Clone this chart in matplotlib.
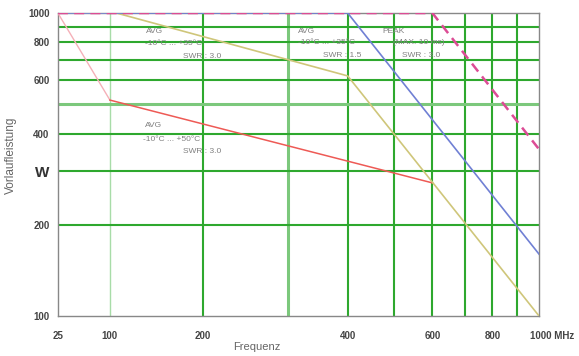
import numpy as np
import matplotlib
matplotlib.use("Agg")
import matplotlib.pyplot as plt
import matplotlib.transforms as mtransforms

plt.rcParams['font.family'] = ['Liberation Sans Narrow', 'Liberation Sans', 'DejaVu Sans']

# Kurven (Frequenz in MHz, Leistung in W)
pink_f = [25, 100]
pink_p = [1000, 516]
red_f = [100, 600]
red_p = [516, 275]
yellow_f = [25, 105, 400, 1000]
yellow_p = [1000, 1000, 620, 100]
blue_f = [25, 400, 1000]
blue_p = [1000, 1000, 160]
peak_f = [25, 600, 1000]
peak_p = [1000, 1000, 355]

x_ticks = [25, 100, 200, 400, 600, 800, 1000]
x_labels = ['25', '100', '200', '400', '600', '800', '1000 MHz']
y_ticks = [100, 200, 300, 400, 600, 800, 1000]
y_labels = ['100', '200', 'W', '400', '600', '800', '1000']
x_grid = [100, 200, 300, 400, 500, 600, 700, 800, 900]
y_grid = [200, 300, 400, 500, 600, 700, 800, 900]

# gestauchte Frequenzachse: log-stueckweise
knots_f = np.log10([25, 100, 200, 1000])
knots_u = np.array([0, 52, 145, 481], dtype=float)


def fwd(x):
    lx = np.log10(np.clip(np.asarray(x, dtype=float), 1e-3, None))
    out = np.interp(lx, knots_f, knots_u)
    lo = (knots_u[1] - knots_u[0]) / (knots_f[1] - knots_f[0])
    hi = (knots_u[-1] - knots_u[-2]) / (knots_f[-1] - knots_f[-2])
    out = np.where(lx < knots_f[0], knots_u[0] + (lx - knots_f[0]) * lo, out)
    out = np.where(lx > knots_f[-1], knots_u[-1] + (lx - knots_f[-1]) * hi, out)
    return out


def inv(u):
    u = np.asarray(u, dtype=float)
    lx = np.interp(u, knots_u, knots_f)
    lo = (knots_f[1] - knots_f[0]) / (knots_u[1] - knots_u[0])
    hi = (knots_f[-1] - knots_f[-2]) / (knots_u[-1] - knots_u[-2])
    lx = np.where(u < knots_u[0], knots_f[0] + (u - knots_u[0]) * lo, lx)
    lx = np.where(u > knots_u[-1], knots_f[-1] + (u - knots_u[-1]) * hi, lx)
    return 10 ** lx


fig = plt.figure(figsize=(5.79, 3.56), dpi=100)
ax = fig.add_axes([0.100, 0.1124, 0.831, 0.851])
ax.set_xscale('function', functions=(fwd, inv))
ax.set_yscale('log')
ax.set_xlim(25, 1000)
ax.set_ylim(100, 1000)

for g in x_grid:
    if g == 100:
        ax.axvline(g, color='#a8dca8', lw=1.0, zorder=1)
    elif g == 300:
        ax.axvline(g, color='#7cc87c', lw=2.2, zorder=1)
    else:
        ax.axvline(g, color='#2ea82e', lw=1.5, zorder=1)
for g in y_grid:
    if g == 500:
        ax.axhline(g, color='#7cc87c', lw=2.2, zorder=1)
    else:
        ax.axhline(g, color='#2ea82e', lw=1.5, zorder=1)

ax.plot(pink_f, pink_p, color='#f5b0b8', lw=1.0, zorder=3)
ax.plot(red_f, red_p, color='#ee5a55', lw=1.1, zorder=3)
ax.plot(yellow_f, yellow_p, color='#cfc67a', lw=1.2, zorder=3)
ax.plot(blue_f, blue_p, color='#7080d4', lw=1.2, zorder=3)
ax.plot(peak_f, peak_p, color='#dc4c95', lw=1.8, ls=(0, (4, 2.5)), zorder=4)

for s in ['left', 'bottom', 'right', 'top']:
    ax.spines[s].set_color('#888888')
    ax.spines[s].set_linewidth(1.0)

ax.set_xticks(x_ticks)
ax.set_xticklabels(x_labels)
ax.set_yticks(y_ticks)
ax.set_yticklabels(y_labels)
ax.minorticks_off()
ax.tick_params(length=0, labelsize=7, labelcolor='#444444')
ax.tick_params(axis='x', pad=11)
ax.tick_params(axis='y', pad=6)
for t in ax.get_xticklabels() + ax.get_yticklabels():
    t.set_fontweight('bold')
ax.get_yticklabels()[2].set_fontsize(11)
ax.get_yticklabels()[2].set_color('#333333')
last = ax.get_xticklabels()[-1]
last.set_horizontalalignment('left')
last.set_transform(last.get_transform() + mtransforms.ScaledTranslation(-9 / 100, 0, fig.dpi_scale_trans))

ax.set_xlabel('Frequenz', fontsize=8, color='#666666')
ax.set_ylabel('Vorlaufleistung', fontsize=8.5, color='#666666')
ax.xaxis.set_label_coords(0.414, -0.085)
ax.yaxis.set_label_coords(-0.085, 0.53)

tc = '#808080'
fs = 6
notes = [
    (146, 31, 'AVG'), (145, 43, '-10°C ... +35°C'), (183, 56, 'SWR : 3.0'),
    (298, 31, 'AVG'), (298, 42, '-10°C ... +35°C'), (323, 55, 'SWR : 1.5'),
    (382, 31, 'PEAK'), (393, 42, '(MAX. 10 ms)'), (402, 55, 'SWR : 3.0'),
    (145, 125, 'AVG'), (143, 139, '-10°C ... +50°C'), (183, 151, 'SWR : 3.0'),
]
for px, py, s in notes:
    ax.text((px - 58) / 481, (316 - py) / 303, s, transform=ax.transAxes,
            fontsize=fs, color=tc, va='center', ha='left')

fig.savefig('out.png', dpi=100)
